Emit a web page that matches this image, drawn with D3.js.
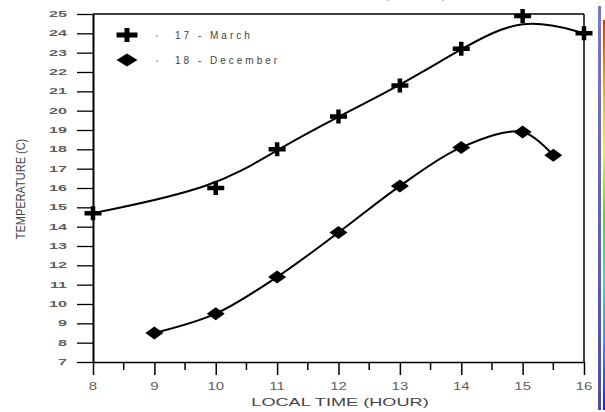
<!DOCTYPE html>
<html>
<head>
<meta charset="utf-8">
<script src="https://cdn.jsdelivr.net/npm/d3@7"></script>
<style>
	html, body { margin: 0; padding: 0; background: #fff; }
	svg { display: block; }
	text { font-family: "Liberation Sans", Arial, sans-serif; fill: #3a3a3a; }
</style>
</head>
<body>
<svg id="chart" width="605" height="412"></svg>
<script>
// readings
var marchHours = [8, 10, 11, 12, 13, 14, 15, 16]
var marchTemps = [14.7, 16.0, 18.0, 19.7, 21.3, 23.2, 24.9, 24.0]
var decHours = [9, 10, 11, 12, 13, 14, 15, 15.5]
var decTemps = [8.5, 9.5, 11.4, 13.7, 16.1, 18.1, 18.9, 17.7]
var seriesNames = ["17 - March", "18 - December"]
var xTicks = [8, 9, 10, 11, 12, 13, 14, 15, 16]
var xMinorTicks = [8.5, 9.5, 10.5, 11.5, 12.5, 13.5, 14.5, 15.5]
var yTicks = d3.range(7, 26)
var xTitle = "LOCAL TIME (HOUR)"
var yTitle = "TEMPERATURE (C)"

var svg = d3.select("#chart")
var x = d3.scaleLinear().domain([8, 16]).range([93, 584])
var y = d3.scaleLinear().domain([7, 25]).range([362, 14])

function plusPath(w, h, t) {
	var a = w/2, b = h/2, c = t/2
	return "M" + (-a) + "," + (-c) + "H" + (-c) + "V" + (-b) + "H" + c + "V" + (-c) + "H" + a +
		"V" + c + "H" + c + "V" + b + "H" + (-c) + "V" + c + "H" + (-a) + "Z"
}

function diamondPath(w, h) {
	return "M0," + (-h/2) + "L" + (w/2) + ",0L0," + (h/2) + "L" + (-w/2) + ",0Z"
}

// faint cut-off title at the very top
svg.append("text")
	.attr("transform", "translate(447,-1) scale(1.6,1)")
	.attr("text-anchor", "end")
	.style("font-size", "11px")
	.style("fill", "#a8a8c8")
	.text(xTitle)

// box
var frame = svg.append("g").attr("stroke", "#000").attr("fill", "none")
frame.append("line").attr("x1", x(16)).attr("x2", x(16)).attr("y1", y(25)).attr("y2", y(7))
	.attr("stroke-width", 1.5)
frame.append("line").attr("x1", x(8)).attr("x2", x(16)).attr("y1", y(25)).attr("y2", y(25))
	.attr("stroke-width", 1.5)

// y axis
var yAxis = svg.append("g")
	.attr("transform", "translate(" + x(8) + ",0)")
	.call(d3.axisLeft(y).tickValues(yTicks).tickSize(16).tickSizeOuter(0).tickFormat(""))
yAxis.select(".domain").attr("stroke-width", 2)
yAxis.selectAll(".tick line").attr("stroke-width", 1.3)

yAxis.selectAll(".ylab")
	.data(yTicks)
	.join("text")
	.attr("class", "ylab")
	.attr("transform", function(d) { return "translate(-26," + (y(d) + 3) + ") scale(1.9,1)" })
	.attr("text-anchor", "end")
	.style("font-size", "8.5px")
	.style("font-weight", "bold")
	.style("fill", "#606060")
	.text(function(d) { return d })

// x axis
var xAxis = svg.append("g")
	.attr("transform", "translate(0," + y(7) + ")")
	.call(d3.axisBottom(x).tickValues(xTicks).tickSize(13).tickSizeOuter(0).tickFormat(""))
xAxis.select(".domain").attr("stroke-width", 1.5)
xAxis.selectAll(".tick line").attr("stroke-width", 1.5)

xAxis.selectAll(".minor")
	.data(xMinorTicks)
	.join("line")
	.attr("class", "minor")
	.attr("x1", function(d) { return x(d) })
	.attr("x2", function(d) { return x(d) })
	.attr("y1", 1)
	.attr("y2", 8)
	.attr("stroke", "#000")
	.attr("stroke-width", 1.5)

xAxis.selectAll(".xlab")
	.data(xTicks)
	.join("text")
	.attr("class", "xlab")
	.attr("transform", function(d) { return "translate(" + x(d) + ",28) scale(1.5,1)" })
	.attr("text-anchor", "middle")
	.style("font-size", "10px")
	.style("fill", "#606060")
	.text(function(d) { return d })

svg.append("text")
	.attr("transform", "translate(340,406) scale(1.65,1)")
	.attr("text-anchor", "middle")
	.style("font-size", "11px")
	.style("fill", "#444")
	.text(xTitle)

svg.append("text")
	.attr("transform", "translate(25,189) rotate(-90) scale(0.88,1)")
	.attr("text-anchor", "middle")
	.style("font-size", "12.5px")
	.style("fill", "#444")
	.text(yTitle)

// curves
var march = d3.zip(marchHours, marchTemps)
var dec = d3.zip(decHours, decTemps)

svg.append("path")
	.datum(march)
	.attr("fill", "none")
	.attr("stroke", "#000")
	.attr("stroke-width", 2)
	.attr("d", d3.line().x(function(d) { return x(d[0]) }).y(function(d) { return y(d[1]) }).curve(d3.curveBasis))

svg.append("path")
	.datum(dec)
	.attr("fill", "none")
	.attr("stroke", "#000")
	.attr("stroke-width", 2)
	.attr("d", d3.line().x(function(d) { return x(d[0]) }).y(function(d) { return y(d[1]) }).curve(d3.curveCatmullRom.alpha(0.5)))

svg.append("g").selectAll("path")
	.data(march)
	.join("path")
	.attr("transform", function(d) { return "translate(" + x(d[0]) + "," + y(d[1]) + ")" })
	.attr("d", plusPath(17, 14, 4.5))
	.attr("fill", "#000")

svg.append("g").selectAll("path")
	.data(dec)
	.join("path")
	.attr("transform", function(d) { return "translate(" + x(d[0]) + "," + y(d[1]) + ")" })
	.attr("d", diamondPath(18, 13))
	.attr("fill", "#000")

// legend
var legend = svg.append("g").attr("transform", "translate(127,35)")
var items = legend.selectAll("g")
	.data(seriesNames)
	.join("g")
	.attr("transform", function(d, i) { return "translate(0," + (i * 25) + ")" })

items.append("path")
	.attr("d", function(d, i) { return i == 0 ? plusPath(21, 14, 5) : diamondPath(21, 13) })
	.attr("fill", "#000")

items.append("circle")
	.attr("cx", 30).attr("cy", 1).attr("r", 0.8)
	.attr("fill", "#666")

items.append("text")
	.attr("x", 48)
	.attr("y", 4)
	.style("font-size", "10px")
	.style("letter-spacing", "3px")
	.style("fill", "#444")
	.text(function(d) { return d })

// screen edge strips at the right
var defs = svg.append("defs")
var g1 = defs.append("linearGradient").attr("id", "bar").attr("x1", 0).attr("x2", 0).attr("y1", 0).attr("y2", 1)
g1.append("stop").attr("offset", "0%").attr("stop-color", "#7878c8")
g1.append("stop").attr("offset", "100%").attr("stop-color", "#4a4ab4")
var g2 = defs.append("linearGradient").attr("id", "rainbow").attr("x1", 0).attr("x2", 0).attr("y1", 0).attr("y2", 1)
var rainbow = ["#ff2020", "#ffa020", "#f0f020", "#40e040", "#20e0f0", "#3090ff", "#2020d0"]
rainbow.forEach(function(c, i) {
	g2.append("stop").attr("offset", (i / (rainbow.length - 1) * 100) + "%").attr("stop-color", c)
})
svg.append("rect").attr("x", 598).attr("y", 6).attr("width", 3).attr("height", 404).attr("fill", "url(#bar)")
svg.append("rect").attr("x", 603).attr("y", 20).attr("width", 2).attr("height", 390).attr("fill", "url(#rainbow)")
</script>
</body>
</html>
